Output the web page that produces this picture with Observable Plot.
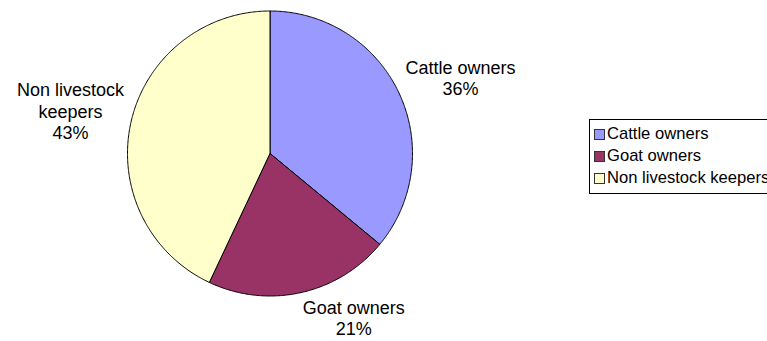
<!DOCTYPE html>
<html>
<head>
<meta charset="utf-8">
<script src="https://cdn.jsdelivr.net/npm/d3@7"></script>
<script src="https://cdn.jsdelivr.net/npm/@observablehq/plot@0.6"></script>
<style>
  html, body { margin: 0; padding: 0; background: #fff; overflow: hidden; }
  #wrap { position: relative; width: 767px; height: 341px; overflow: hidden; font-family: "Liberation Sans", Arial, sans-serif; }
  #legend { position: absolute; left: 589px; top: 119px; border: 1px solid #000; background: #fff;
            padding: 3px 40px 4px 4px; white-space: nowrap; font-size: 16.6px; color: #000; }
  .item { height: 22px; line-height: 22px; display: flex; align-items: center; }
  .sw { width: 9px; height: 9px; border: 1px solid #333; margin-right: 2px; flex: none; }
</style>
</head>
<body>
<div id="wrap"></div>
<script>
const categories = ["Cattle owners", "Goat owners", "Non livestock keepers"];
const shares = [36, 21, 43];
const labelNames = ["Cattle owners", "Goat owners", "Non livestock\nkeepers"];
const colors = ["#9999FF", "#993366", "#FFFFCC"];

// layout options
const cx = 269.5, cy = 153, R = 142.5;
const fontSize = 18, lineH = 1.2;

const total = d3.sum(shares);
const slices = [];
const labels = [];
const canvas = document.createElement("canvas");
const ctx = canvas.getContext("2d");
ctx.font = `${fontSize}px "Liberation Sans"`;

let acc = 0;
categories.forEach((cat, i) => {
  const a0 = acc / total * 2 * Math.PI;
  acc += shares[i];
  const a1 = acc / total * 2 * Math.PI;
  slices.push({cat, x: 0, y: 0});
  const n = Math.max(2, Math.ceil((a1 - a0) / (Math.PI / 360)));
  for (let k = 0; k <= n; k++) {
    const t = a0 + (a1 - a0) * k / n;
    slices.push({cat, x: Math.sin(t), y: Math.cos(t)});
  }
  slices.push({cat, x: 0, y: 0});

  const m = (a0 + a1) / 2;
  const s = Math.sin(m), c = Math.cos(m);
  const text = labelNames[i] + "\n" + Math.round(shares[i] / total * 100) + "%";
  const lines = text.split("\n");
  const w = d3.max(lines, l => ctx.measureText(l).width);
  const h = lines.length * fontSize * lineH;
  labels.push({
    text,
    x: 1.05 * s + Math.sign(s) * (w / 2) / R,
    y: 1.05 * c + c * (h / 2) / R
  });
});

const chart = Plot.plot({
  width: 767,
  height: 341,
  margin: 0,
  x: {domain: [-1, 1], range: [cx - R, cx + R], axis: null},
  y: {domain: [-1, 1], range: [cy + R, cy - R], axis: null},
  color: {domain: categories, range: colors},
  style: {fontFamily: '"Liberation Sans", Arial, sans-serif', background: "transparent"},
  marks: [
    Plot.line(slices, {x: "x", y: "y", z: "cat", fill: "cat", stroke: "#000", strokeWidth: 1, strokeLinejoin: "miter"}),
    Plot.text(labels, {x: "x", y: "y", text: "text", fontSize, lineHeight: lineH, textAnchor: "middle", fill: "#000", dy: -3})
  ]
});

const wrap = document.getElementById("wrap");
wrap.appendChild(chart);

const legend = document.createElement("div");
legend.id = "legend";
categories.forEach((cat, i) => {
  const it = document.createElement("div");
  it.className = "item";
  const sw = document.createElement("span");
  sw.className = "sw";
  sw.style.background = colors[i];
  const tx = document.createElement("span");
  tx.textContent = cat;
  it.appendChild(sw);
  it.appendChild(tx);
  legend.appendChild(it);
});
wrap.appendChild(legend);
</script>
</body>
</html>
